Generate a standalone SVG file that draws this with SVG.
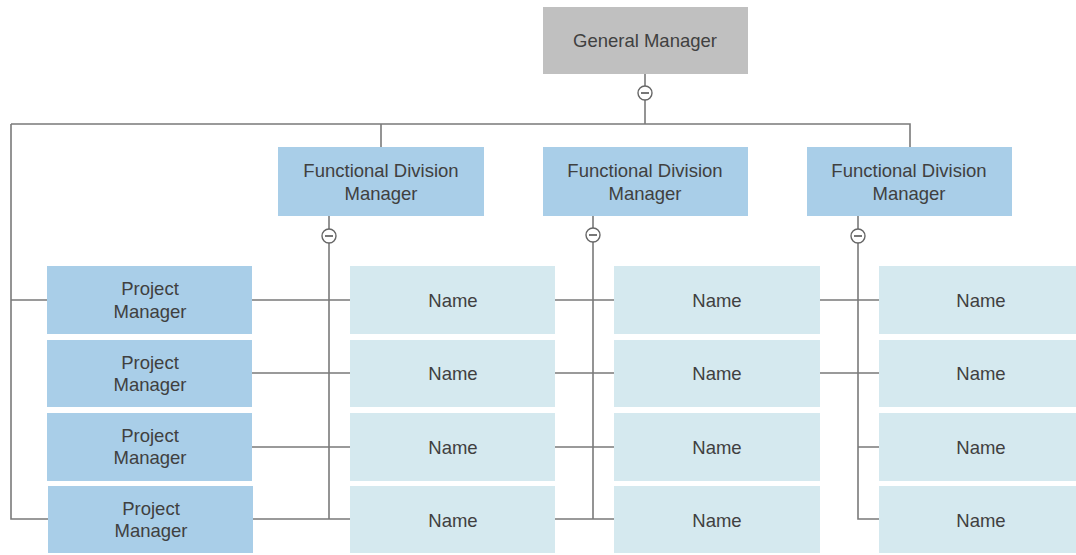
<svg xmlns="http://www.w3.org/2000/svg" width="1076" height="555" viewBox="0 0 1076 555">
<style>
.gm{fill:#c0c0c0}
.fdm{fill:#a9cee8}
.pm{fill:#a9cee8}
.nm{fill:#d5e9ef}
text{font-family:"Liberation Sans",Arial,sans-serif;font-size:18.5px;fill:#404040;text-anchor:middle}
.ln{fill:none;stroke:#7a7a7a;stroke-width:1.6}
.tog{fill:#fff;stroke:#666;stroke-width:1.4}
.tm{stroke:#555;stroke-width:1.6}
</style>
<rect width="1076" height="555" fill="#fff"/>
<g id="connectors">
<path class="ln" d="M645,74 V86 M645,100 V124 M11,124 H910 V147 M381,124 V147 M11,124 V519 H48 M11,300 H47"/>
<path class="ln" d="M329,216 V229 M329,243 V519 H350 M252,300 H350 M252,373 H350 M252,447 H350 M252,519 H329"/>
<path class="ln" d="M593,216 V228 M593,242 V519 H614 M555,300 H614 M555,373 H614 M555,447 H614 M555,519 H593"/>
<path class="ln" d="M858,216 V229 M858,243 V519 H879 M820,300 H879 M820,373 H879 M858,447 H879"/>
<g id="toggles">
<circle class="tog" cx="645" cy="93" r="7"/><path class="tm" d="M641,93 H649"/>
<circle class="tog" cx="329" cy="236" r="7"/><path class="tm" d="M325,236 H333"/>
<circle class="tog" cx="593" cy="235" r="7"/><path class="tm" d="M589,235 H597"/>
<circle class="tog" cx="858" cy="236" r="7"/><path class="tm" d="M854,236 H862"/>
</g>
</g>
<g id="gm"><rect class="gm" x="543" y="7" width="205" height="67"/><text x="645" y="47">General Manager</text></g>
<g id="fdm1"><rect class="fdm" x="278" y="147" width="206" height="69"/><text x="381" y="177">Functional Division</text><text x="381" y="200">Manager</text></g>
<g id="fdm2"><rect class="fdm" x="543" y="147" width="205" height="69"/><text x="645" y="177">Functional Division</text><text x="645" y="200">Manager</text></g>
<g id="fdm3"><rect class="fdm" x="807" y="147" width="205" height="69"/><text x="909" y="177">Functional Division</text><text x="909" y="200">Manager</text></g>
<g id="pm1"><rect class="pm" x="47" y="266" width="205" height="68"/><text x="150" y="295">Project</text><text x="150" y="318">Manager</text></g>
<g id="pm2"><rect class="pm" x="47" y="340" width="205" height="67"/><text x="150" y="369">Project</text><text x="150" y="391">Manager</text></g>
<g id="pm3"><rect class="pm" x="47" y="413" width="205" height="68"/><text x="150" y="442">Project</text><text x="150" y="464">Manager</text></g>
<g id="pm4"><rect class="pm" x="48" y="486" width="205" height="67"/><text x="151" y="515">Project</text><text x="151" y="537">Manager</text></g>
<g id="n11"><rect class="nm" x="350" y="266" width="205" height="68"/><text x="453" y="307">Name</text></g>
<g id="n12"><rect class="nm" x="350" y="340" width="205" height="67"/><text x="453" y="380">Name</text></g>
<g id="n13"><rect class="nm" x="350" y="413" width="205" height="68"/><text x="453" y="454">Name</text></g>
<g id="n14"><rect class="nm" x="350" y="486" width="205" height="67"/><text x="453" y="527">Name</text></g>
<g id="n21"><rect class="nm" x="614" y="266" width="206" height="68"/><text x="717" y="307">Name</text></g>
<g id="n22"><rect class="nm" x="614" y="340" width="206" height="67"/><text x="717" y="380">Name</text></g>
<g id="n23"><rect class="nm" x="614" y="413" width="206" height="68"/><text x="717" y="454">Name</text></g>
<g id="n24"><rect class="nm" x="614" y="486" width="206" height="67"/><text x="717" y="527">Name</text></g>
<g id="n31"><rect class="nm" x="879" y="266" width="205" height="68"/><text x="981" y="307">Name</text></g>
<g id="n32"><rect class="nm" x="879" y="340" width="205" height="67"/><text x="981" y="380">Name</text></g>
<g id="n33"><rect class="nm" x="879" y="413" width="205" height="68"/><text x="981" y="454">Name</text></g>
<g id="n34"><rect class="nm" x="879" y="486" width="205" height="67"/><text x="981" y="527">Name</text></g>
</svg>
